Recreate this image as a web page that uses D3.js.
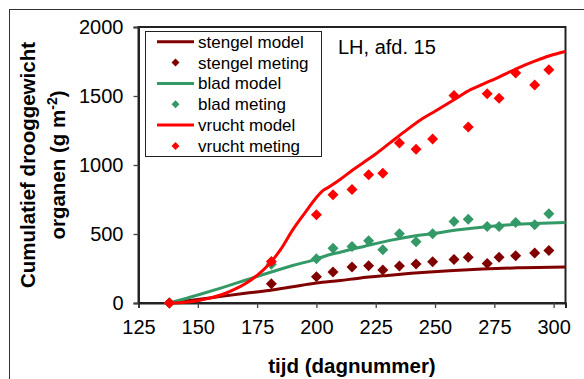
<!DOCTYPE html>
<html>
<head>
<meta charset="utf-8">
<script src="https://cdn.jsdelivr.net/npm/d3@7"></script>
<style>
  html, body { margin: 0; padding: 0; background: #fff; }
  svg { display: block; }
  text { font-family: "Liberation Sans", Arial, Helvetica, sans-serif; fill: #000; }
</style>
</head>
<body>
<svg id="chart" width="584" height="379"></svg>
<script>
// Measurement days (dagnummer) and measured cumulative dry weight (g m-2)
const measureDays   = [138, 181, 200, 207, 215, 222, 228, 235, 242, 249, 258, 264, 272, 277, 284, 292, 298];
const stengelMeting = [0, 140, 190, 225, 261, 270, 239, 268, 282, 299, 316, 331, 287, 331, 343, 362, 381];
const bladMeting    = [0, 280, 320, 396, 410, 451, 386, 502, 444, 502, 591, 606, 555, 555, 584, 567, 647];
const vruchtMeting  = [0, 300, 640, 785, 822, 930, 940, 1159, 1115, 1188, 1504, 1275, 1517, 1483, 1667, 1580, 1691];

// Simulated (model) curves
const stengelModelDays = [138, 150, 160, 170, 180, 190, 200, 210, 218, 230, 240, 256, 270, 285, 305];
const stengelModel     = [0, 25, 48, 70, 91, 118, 145, 163, 180, 200, 215, 234, 246, 255, 261];
const bladModelDays    = [138, 150, 160, 170, 181, 190, 200, 205, 210, 214, 220, 230, 240, 250, 260, 273, 285, 295, 305];
const bladModel        = [0, 58, 110, 165, 225, 272, 318, 348, 368, 386, 410, 450, 482, 505, 530, 555, 570, 578, 584];
const vruchtModelDays  = [138, 145, 150, 155, 160, 165, 170, 175, 180, 185, 190, 195, 200, 203, 205, 210, 215, 220, 225, 231, 237, 244, 250, 258, 265, 270, 276, 284, 292, 298, 305];
const vruchtModel      = [0, 6, 16, 35, 60, 95, 140, 200, 280, 390, 530, 650, 765, 818, 838, 895, 960, 1020, 1080, 1160, 1240, 1328, 1390, 1473, 1546, 1585, 1630, 1695, 1752, 1790, 1823];

// Axis ticks
const xTicks = [125, 150, 175, 200, 225, 250, 275, 300];
const yTicks = [0, 500, 1000, 1500, 2000];

const series = [
  { name: "stengel", color: "#800000", mDays: stengelModelDays, m: stengelModel, pts: stengelMeting },
  { name: "blad",    color: "#339966", mDays: bladModelDays,    m: bladModel,    pts: bladMeting },
  { name: "vrucht",  color: "#FF0000", mDays: vruchtModelDays,  m: vruchtModel,  pts: vruchtMeting }
];

const svg = d3.select("#chart");
const plot = { left: 138.5, right: 565.5, top: 27, bottom: 303 };

const x = d3.scaleLinear().domain([125, 305]).range([plot.left, plot.right]);
const y = d3.scaleLinear().domain([0, 2000]).range([plot.bottom, plot.top]);

// Outer chart frame
svg.append("rect")
  .attr("x", 9.5).attr("y", 9.5).attr("width", 700).attr("height", 500)
  .attr("fill", "none").attr("stroke", "#333").attr("stroke-width", 1);

// Plot area frame
svg.append("rect")
  .attr("x", plot.left).attr("y", plot.top)
  .attr("width", plot.right - plot.left).attr("height", plot.bottom - plot.top)
  .attr("fill", "#fff").attr("stroke", "#222").attr("stroke-width", 2);

// Axes
const xAxis = svg.append("g")
  .attr("transform", `translate(0,${plot.bottom})`)
  .call(d3.axisBottom(x).tickValues(xTicks).tickSize(5).tickPadding(12).tickFormat(d3.format("d")));
const yAxis = svg.append("g")
  .attr("transform", `translate(${plot.left},0)`)
  .call(d3.axisLeft(y).tickValues(yTicks).tickSize(5).tickPadding(10).tickFormat(d3.format("d")));

[xAxis, yAxis].forEach(a => {
  a.select(".domain").attr("stroke", "#222").attr("stroke-width", 2);
  a.selectAll(".tick line").attr("stroke", "#444").attr("stroke-width", 1.3);
  a.selectAll(".tick text")
    .style("font-family", '"Liberation Sans", Arial, sans-serif')
    .style("font-size", "20px").attr("fill", "#000");
});

const diamond = r => `M0,${-r}L${r},0L0,${r}L${-r},0Z`;
const line = d3.line().curve(d3.curveMonotoneX);

// Series: model line followed by measurement markers
series.forEach(s => {
  svg.append("path")
    .attr("d", line(s.mDays.map((d, i) => [x(d), y(s.m[i])])))
    .attr("fill", "none").attr("stroke", s.color).attr("stroke-width", 3)
    .attr("stroke-linejoin", "round");
  svg.append("g").selectAll("path")
    .data(measureDays.map((d, i) => [d, s.pts[i]]))
    .join("path")
    .attr("transform", d => `translate(${x(d[0])},${y(d[1])})`)
    .attr("d", diamond(5.5))
    .attr("fill", s.color);
});

// Legend
const legend = svg.append("g");
legend.append("rect")
  .attr("x", 145.5).attr("y", 31.5).attr("width", 176).attr("height", 125)
  .attr("fill", "#fff").attr("stroke", "#222").attr("stroke-width", 1);
const legendItems = [];
series.forEach(s => {
  legendItems.push({ label: `${s.name} model`, color: s.color, type: "line" });
  legendItems.push({ label: `${s.name} meting`, color: s.color, type: "marker" });
});
legendItems.forEach((it, i) => {
  const cy = 41.7 + i * 20.85;
  if (it.type === "line") {
    legend.append("line")
      .attr("x1", 157).attr("x2", 194).attr("y1", cy).attr("y2", cy)
      .attr("stroke", it.color).attr("stroke-width", 3);
  } else {
    legend.append("path")
      .attr("transform", `translate(175.5,${cy})`)
      .attr("d", diamond(4)).attr("fill", it.color);
  }
  legend.append("text")
    .attr("x", 198).attr("y", cy + 6)
    .style("font-size", "17px")
    .text(it.label);
});

// Annotation
svg.append("text")
  .attr("x", 338).attr("y", 54)
  .style("font-size", "20px")
  .text("LH, afd. 15");

// Axis titles
svg.append("text")
  .attr("x", (plot.left + plot.right) / 2).attr("y", 373)
  .attr("text-anchor", "middle")
  .style("font-size", "20.5px").style("font-weight", "bold")
  .text("tijd (dagnummer)");

const cyMid = (plot.top + plot.bottom) / 2;
svg.append("text")
  .attr("transform", `translate(35,${cyMid}) rotate(-90)`)
  .attr("text-anchor", "middle")
  .style("font-size", "20.5px").style("font-weight", "bold")
  .text("Cumulatief drooggewicht");
const t2 = svg.append("text")
  .attr("transform", `translate(65,${cyMid}) rotate(-90)`)
  .attr("text-anchor", "middle")
  .style("font-size", "20.5px").style("font-weight", "bold");
t2.append("tspan").text("organen (g m");
t2.append("tspan").attr("dy", -8).style("font-size", "14px").text("-2");
t2.append("tspan").attr("dy", 8).text(")");
</script>
</body>
</html>
